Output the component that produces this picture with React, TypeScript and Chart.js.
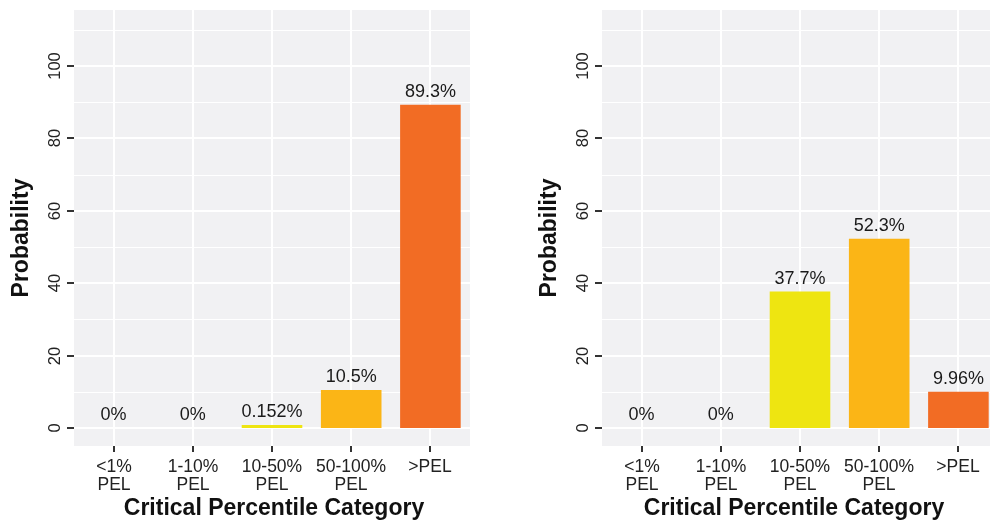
import React, { useEffect, useRef } from "react";
import { Chart, registerables } from "chart.js";

Chart.register(...registerables);

const categories: string[][] = [["<1%", "PEL"], ["1-10%", "PEL"], ["10-50%", "PEL"], ["50-100%", "PEL"], [">PEL"]];
const leftValues = [0, 0, 0.152, 10.5, 89.3];
const rightValues = [0, 0, 37.7, 52.3, 9.96];
const leftLabels = ["0%", "0%", "0.152%", "10.5%", "89.3%"];
const rightLabels = ["0%", "0%", "37.7%", "52.3%", "9.96%"];
const barColors = ["#F7EE3A", "#F3E920", "#EEE511", "#FBB516", "#F26C24"];
const yMajorTicks = [0, 20, 40, 60, 80, 100];
const yMinorTicks = [10, 30, 50, 70, 90, 110];
const xTitle = "Critical Percentile Category";
const yTitle = "Probability";

const FONT = '"Liberation Sans", Arial, Helvetica, sans-serif';
const CANVAS_W = 528;
const CANVAS_H = 524;

function makeDecorPlugin(labels: string[], titleX: number) {
  return {
    id: "ggDecor",
    beforeDatasetsDraw(chart: any) {
      const { ctx, chartArea } = chart;
      const { left, right, top, bottom } = chartArea;
      const ys = chart.scales.y;
      const xs = chart.scales.x;
      ctx.save();
      ctx.fillStyle = "#F1F1F3";
      ctx.fillRect(left, top, right - left, bottom - top);
      ctx.strokeStyle = "#FFFFFF";
      ctx.lineWidth = 1;
      for (const v of yMinorTicks) {
        const y = Math.round(ys.getPixelForValue(v)) + 0.5;
        ctx.beginPath();
        ctx.moveTo(left, y);
        ctx.lineTo(right, y);
        ctx.stroke();
      }
      ctx.lineWidth = 2;
      for (const v of yMajorTicks) {
        const y = Math.round(ys.getPixelForValue(v));
        ctx.beginPath();
        ctx.moveTo(left, y);
        ctx.lineTo(right, y);
        ctx.stroke();
      }
      for (let i = 0; i < categories.length; i++) {
        const x = Math.round(xs.getPixelForValue(i));
        ctx.beginPath();
        ctx.moveTo(x, top);
        ctx.lineTo(x, bottom);
        ctx.stroke();
      }
      ctx.restore();
    },
    afterDatasetsDraw(chart: any) {
      const { ctx, chartArea } = chart;
      const { left, bottom } = chartArea;
      const ys = chart.scales.y;
      const xs = chart.scales.x;
      const meta = chart.getDatasetMeta(0);
      const values = chart.data.datasets[0].data as number[];
      ctx.save();
      // value labels
      ctx.fillStyle = "#1A1A1A";
      ctx.font = `18px ${FONT}`;
      ctx.textAlign = "center";
      ctx.textBaseline = "alphabetic";
      for (let i = 0; i < values.length; i++) {
        const x = xs.getPixelForValue(i);
        const y = ys.getPixelForValue(values[i]);
        const barTop = Math.min(y, meta.data[i] ? meta.data[i].y : y);
        ctx.fillText(labels[i], x, barTop - 8);
      }
      // y ticks
      ctx.strokeStyle = "#333333";
      ctx.lineWidth = 2;
      ctx.fillStyle = "#222222";
      ctx.font = `16.5px ${FONT}`;
      for (const v of yMajorTicks) {
        const y = Math.round(ys.getPixelForValue(v));
        ctx.beginPath();
        ctx.moveTo(left - 7, y);
        ctx.lineTo(left, y);
        ctx.stroke();
        ctx.save();
        ctx.translate(left - 19, y);
        ctx.rotate(-Math.PI / 2);
        ctx.textAlign = "center";
        ctx.textBaseline = "middle";
        ctx.fillText(String(v), 0, 0);
        ctx.restore();
      }
      // x ticks
      ctx.font = `17.5px ${FONT}`;
      ctx.textAlign = "center";
      ctx.textBaseline = "middle";
      for (let i = 0; i < categories.length; i++) {
        const x = Math.round(xs.getPixelForValue(i));
        ctx.beginPath();
        ctx.moveTo(x, bottom);
        ctx.lineTo(x, bottom + 6);
        ctx.stroke();
        const lines = categories[i];
        lines.forEach((ln, k) => {
          ctx.fillText(ln, x, bottom + 21 + k * 18);
        });
      }
      // titles
      ctx.fillStyle = "#111111";
      ctx.font = `bold 23px ${FONT}`;
      ctx.textAlign = "center";
      ctx.textBaseline = "middle";
      ctx.fillText(xTitle, titleX, 509);
      ctx.save();
      ctx.translate(22, 238);
      ctx.rotate(-Math.PI / 2);
      ctx.fillText(yTitle, 0, 0);
      ctx.restore();
      ctx.restore();
    },
  };
}

function Panel({ values, labels, x, titleX }: { values: number[]; labels: string[]; x: number; titleX: number }) {
  const ref = useRef<HTMLCanvasElement | null>(null);
  useEffect(() => {
    if (!ref.current) return;
    const chart = new Chart(ref.current, {
      type: "bar",
      data: {
        labels: categories.map((c) => c.join(" ")),
        datasets: [
          {
            data: values,
            backgroundColor: (c: any) => (values[c.dataIndex] === 0 ? "rgba(0,0,0,0)" : barColors[c.dataIndex]),
            borderWidth: 0,
            barPercentage: 0.765,
            categoryPercentage: 1,
            minBarLength: 3,
          },
        ],
      },
      options: {
        responsive: false,
        animation: false,
        devicePixelRatio: 1,
        layout: { padding: { left: 74, right: CANVAS_W - 470, top: 10, bottom: CANVAS_H - 446 } },
        plugins: { legend: { display: false }, tooltip: { enabled: false } },
        scales: {
          x: { display: false, offset: true },
          y: { display: false, min: -5, max: 115.5 },
        },
      },
      plugins: [makeDecorPlugin(labels, titleX)],
    });
    return () => chart.destroy();
  }, []);
  return (
    <canvas
      ref={ref}
      width={CANVAS_W}
      height={CANVAS_H}
      style={{ position: "absolute", left: x, top: 0, width: CANVAS_W, height: CANVAS_H }}
    />
  );
}

export default function App() {
  return (
    <div
      style={{
        position: "fixed",
        left: 0,
        top: 0,
        width: 990,
        height: 524,
        overflow: "hidden",
        background: "#FFFFFF",
      }}
    >
      <Panel values={leftValues} labels={leftLabels} x={0} titleX={274} />
      <Panel values={rightValues} labels={rightLabels} x={528} titleX={266} />
    </div>
  );
}
